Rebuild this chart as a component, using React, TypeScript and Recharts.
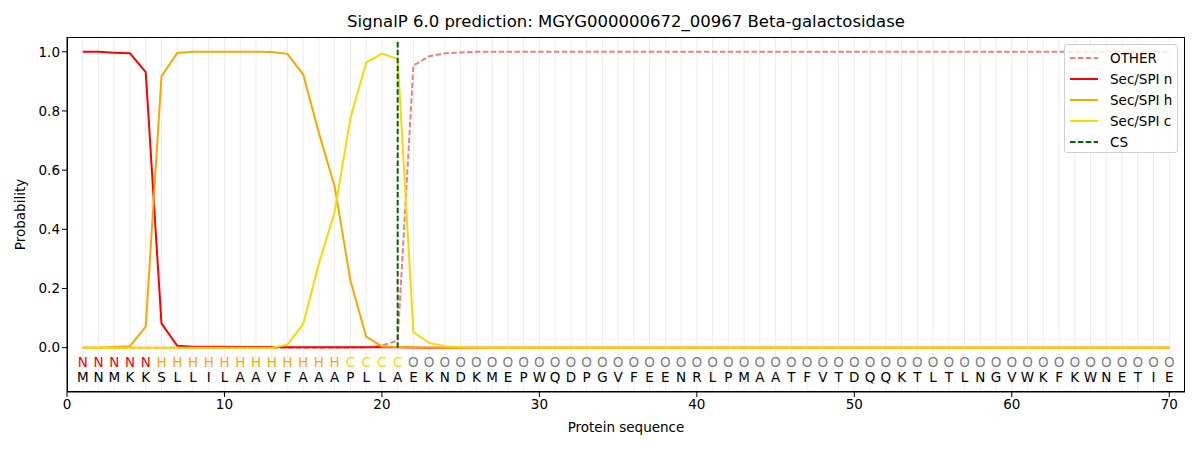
import React from "react";
import {
  LineChart,
  Line,
  XAxis,
  YAxis,
  ReferenceLine,
  Scatter,
  Label,
} from "recharts";

// residues of the protein, position 1..70
const residues = "MNMKKSLLILAAVFAAAPLLAEKNDKMEPWQDPGVFEENRLPMAATFVTDQQKTLTLNGVWKFKWNETIE".split("");
// predicted region per residue
const regions = "NNNNNHHHHHHHHHHHHCCCCOOOOOOOOOOOOOOOOOOOOOOOOOOOOOOOOOOOOOOOOOOOOOOOOO".split("");

const positions = residues.map((_, i) => i + 1);

// probabilities (first 25 residues, the rest are flat)
const otherHead = [0, 0, 0, 0, 0, 0, 0, 0, 0, 0, 0, 0, 0, 0, 0, 0, 0, 0, 0.001, 0.007, 0.024, 0.954, 0.985, 0.995, 0.998];
const secNHead = [1.0, 1.0, 0.997, 0.995, 0.931, 0.082, 0.006, 0.003, 0.003, 0.003, 0.002, 0.002, 0.002, 0.001, 0.001, 0.001, 0.001, 0.001, 0.001, 0.001, 0.001, 0, 0, 0, 0];
const secHHead = [0, 0, 0.002, 0.005, 0.071, 0.917, 0.996, 1.0, 1.0, 1.0, 1.0, 1.0, 0.999, 0.993, 0.923, 0.725, 0.544, 0.227, 0.037, 0.004, 0.002, 0.001, 0, 0, 0];
const secCHead = [0, 0, 0, 0, 0, 0, 0, 0, 0, 0, 0, 0, 0, 0.01, 0.08, 0.284, 0.459, 0.776, 0.963, 0.994, 0.976, 0.052, 0.016, 0.005, 0.001];

const otherTail = 1.0;
const secTail = 0;

const csPosition = 21;
const csTop = 1.035;

const xTicks = [0, 10, 20, 30, 40, 50, 60, 70];
const yTicks = [0, 0.2, 0.4, 0.6, 0.8, 1.0];

const regionColors: Record<string, string> = {
  N: "#ff0000",
  H: "#ffa500",
  C: "#ffd700",
  O: "#808080",
};

const legendItems = [
  { name: "OTHER", color: "#f08080", dashed: true },
  { name: "Sec/SPI n", color: "#ff0000", dashed: false },
  { name: "Sec/SPI h", color: "#ffa500", dashed: false },
  { name: "Sec/SPI c", color: "#ffd700", dashed: false },
  { name: "CS", color: "#006400", dashed: true },
];

const pick = (head: number[], tail: number, i: number) => (i < head.length ? head[i] : tail);

const data = positions.map((pos, i) => ({
  pos,
  other: pick(otherHead, otherTail, i),
  n: pick(secNHead, secTail, i),
  h: pick(secHHead, secTail, i),
  c: pick(secCHead, secTail, i),
}));

const regionRow = positions.map((pos, i) => ({ pos, y: -0.05, t: regions[i] }));
const residueRow = positions.map((pos, i) => ({ pos, y: -0.1, t: residues[i] }));
const csLine = [
  { pos: csPosition, cs: 0 },
  { pos: csPosition, cs: csTop },
];

const font = "DejaVu Sans, sans-serif";

const LetterShape = (colored: boolean) => (props: any) => {
  const { cx, cy, payload } = props;
  return (
    <text
      x={cx}
      y={cy}
      textAnchor="middle"
      dominantBaseline="central"
      fontSize={13.5}
      fontFamily={font}
      fill={colored ? regionColors[payload.t] : "#000"}
    >
      {payload.t}
    </text>
  );
};

const LegendBox = () => (
  <div
    style={{
      position: "absolute",
      left: 1064,
      top: 44,
      width: 114,
      height: 109,
      border: "1px solid #d0d0d0",
      borderRadius: 3,
      background: "rgba(255,255,255,0.8)",
      fontFamily: font,
      fontSize: 13.5,
      boxSizing: "border-box",
      paddingTop: 2,
      whiteSpace: "nowrap",
    }}
  >
    {legendItems.map((it) => (
      <div key={it.name} style={{ display: "flex", alignItems: "center", height: 21 }}>
        <svg width={28} height={10} style={{ marginLeft: 5, marginRight: 12, flex: "none" }}>
          <line
            x1={0}
            y1={5}
            x2={28}
            y2={5}
            stroke={it.color}
            strokeWidth={2}
            strokeDasharray={it.dashed ? "5.5 2.4" : undefined}
          />
        </svg>
        <span style={{ color: "#000" }}>{it.name}</span>
      </div>
    ))}
  </div>
);

export default function App() {
  return (
    <div style={{ position: "absolute", left: 0, top: 0, width: 1200, height: 450, background: "#fff" }}>
      <div
        style={{
          position: "absolute",
          top: 12,
          left: 67,
          width: 1118,
          textAlign: "center",
          fontFamily: font,
          fontSize: 16.5,
          color: "#000",
        }}
      >
        SignalP 6.0 prediction: MGYG000000672_00967 Beta-galactosidase
      </div>
      <LineChart
        width={1200}
        height={450}
        data={data}
        margin={{ top: 37, right: 15, bottom: 0, left: 0 }}
        style={{ fontFamily: font }}
      >
        {positions.map((p) => (
          <ReferenceLine key={p} x={p} stroke="#ededed" strokeWidth={1} />
        ))}
        <XAxis
          dataKey="pos"
          type="number"
          domain={[0, 71]}
          ticks={xTicks}
          allowDataOverflow
          height={58}
          tickSize={5}
          tick={{ fill: "#000", fontSize: 13.5 }}
          axisLine={{ stroke: "#000" }}
          tickLine={{ stroke: "#000" }}
        >
          <Label value="Protein sequence" position="insideBottom" offset={18} fill="#000" fontSize={13.5} />
        </XAxis>
        <YAxis
          type="number"
          domain={[-0.15, 1.05]}
          ticks={yTicks}
          allowDataOverflow
          width={67}
          tickSize={5}
          tickFormatter={(v: number) => v.toFixed(1)}
          tick={{ fill: "#000", fontSize: 13.5 }}
          axisLine={{ stroke: "#000" }}
          tickLine={{ stroke: "#000" }}
        >
          <Label value="Probability" angle={-90} position="insideLeft" offset={20} fill="#000" fontSize={13.5} style={{ textAnchor: "middle" }} />
        </YAxis>
        <Line dataKey="other" stroke="#f08080" strokeWidth={2} strokeDasharray="5.5 2.4" dot={false} isAnimationActive={false} />
        <Line dataKey="n" stroke="#ff0000" strokeWidth={2} dot={false} isAnimationActive={false} />
        <Line dataKey="h" stroke="#ffa500" strokeWidth={2} dot={false} isAnimationActive={false} />
        <Line dataKey="c" stroke="#ffd700" strokeWidth={2} dot={false} isAnimationActive={false} />
        <Line data={csLine} dataKey="cs" stroke="#006400" strokeWidth={2} strokeDasharray="5.5 2.4" dot={false} isAnimationActive={false} />
        <Scatter data={regionRow} dataKey="y" shape={LetterShape(true)} isAnimationActive={false} />
        <Scatter data={residueRow} dataKey="y" shape={LetterShape(false)} isAnimationActive={false} />
      </LineChart>
      {/* plot frame (top and right spines) */}
      <div
        style={{
          position: "absolute",
          left: 67,
          top: 37,
          width: 1118,
          height: 355,
          border: "1px solid #000",
          boxSizing: "border-box",
          pointerEvents: "none",
        }}
      />
      <LegendBox />
    </div>
  );
}
